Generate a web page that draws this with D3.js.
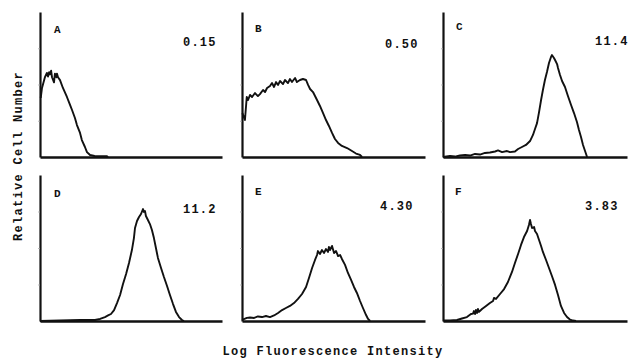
<!DOCTYPE html>
<html>
<head>
<meta charset="utf-8">
<script src="https://cdn.jsdelivr.net/npm/d3@7"></script>
<style>
  body { margin: 0; background: #fff; }
  svg text { font-family: "Liberation Mono", "DejaVu Sans Mono", monospace; font-weight: bold; fill: #111; }
</style>
</head>
<body>
<div id="chart"></div>
<script>
// panel names and the number printed in each corner
var panelNames = ["A", "B", "C", "D", "E", "F"];
var panelValues = ["0.15", "0.50", "11.4", "11.2", "4.30", "3.83"];

// histograms: [log fluorescence (0-100), relative cell number (0-100)]
var histA = [[0.4,40.7],[1.1,47.6],[2.7,55],[3.8,58],[4.4,55.5],[5,58.5],[5.5,57],[6.1,59.5],[6.6,55],[7.7,51.5],[8.2,57.5],
  [9,55],[9.3,57.5],[9.9,55],[11,53],[12.6,47.6],[14.8,41.4],[16.5,35.9],[17.6,32.4],[19.2,26.9],[20.3,22],[22,16.6],[23,11.7],
  [24.7,6.9],[25.8,3.4],[27.5,1.4],[30,0.7],[36.8,0.6],[37.4,0]];
var histB = [[0.2,30.3],[1.6,25.5],[2.6,41.4],[3.3,39.3],[4.4,42.8],[5.5,41.4],[7.1,44.1],[8.7,42],[9.8,43.4],
  [11.5,46.2],[12.6,44.8],[13.7,47.6],[15.3,49],[16.4,51],[17.5,48.3],[18.6,51.7],[19.7,49.7],[20.8,52.4],
  [22.4,50.3],[23.5,53.1],[25.1,51],[26.2,53.8],[27.3,51.7],[29,54.5],[30,51.7],[31.7,53.1],[33.3,53.8],
  [35,53.1],[36.1,49.7],[37.2,46.9],[38.8,44.8],[41,39.3],[42.6,35.2],[44.3,30.3],[45.9,25.5],[47.5,21.4],
  [49.2,16.6],[50.8,12.4],[52.5,9.7],[54.6,7.6],[57.4,6.2],[60.1,4.1],[62.3,2.4],[64.5,1.4],[65.6,0]];
var histC = [[0,0],[3.8,0.7],[6.5,0.3],[9.2,1],[12,1.4],[14.7,1],[17.4,2.1],[20.1,1.7],[22.8,2.8],[25.5,3.1],
  [28.3,3.8],[29.9,4.5],[32.1,3.4],[34.8,4.1],[36.4,3.4],[39.1,3.8],[40.8,5.5],[42.9,6.9],[45.1,8.3],[47.3,11],
  [48.9,15.2],[50,19.3],[51.1,23.4],[52.2,31],[53.3,39.3],[54.3,46.2],[55.4,53.1],[56.5,58.6],[57.6,64.8],
  [58.7,69],[59.2,70.3],[60.3,68.3],[60.9,66.9],[62,64.1],[62.5,61.4],[63.6,56.6],[64.7,52.4],[66.3,48.3],
  [67.9,42.1],[69.6,35.9],[71.2,30.3],[72.8,24.1],[73.9,18.6],[75,13.8],[76.1,8.3],[77.2,4.1],[78.3,0]];
var histD = [[0,0],[11,0.3],[22,0.7],[30.2,0.7],[33,1.4],[35.7,2.7],[37.4,3.8],[39,4.8],[40.7,7.5],[42.3,12.3],
  [44,17.8],[45.6,25.3],[47.3,32.2],[48.9,39.7],[50.5,48.6],[51.6,56.8],[52.2,63.7],[53.3,68.5],[54.4,71.2],
  [55.5,73.3],[56.6,76.7],[57.1,74.7],[57.7,75.3],[58.2,71.9],[59.3,69.2],[60.4,66.4],[61.5,62.3],[62.6,56.8],
  [63.7,50],[64.8,43.2],[66.5,36.3],[68.1,30.1],[69.8,24],[71.4,17.8],[73.1,11.6],[74.7,6.2],[76.4,2.7],
  [78,0.7],[79.1,0]];
var histE = [[0,0.7],[2.7,2.1],[4.4,2.4],[6.6,2.1],[8.7,3.1],[10.9,2.7],[13.1,3.4],[15.3,2.7],[17.5,3.8],
  [19.7,5.5],[21.9,7.5],[24,8.9],[26.2,10.3],[28.4,12.3],[30.6,15.1],[32.8,18.5],[35,23.3],[36.6,29.5],
  [38.3,36.3],[39.9,41.8],[41,45.2],[41.5,47.9],[42.6,45.9],[43.7,48.6],[44.8,46.6],[45.9,49.3],[47,47.3],
  [47.5,50.7],[48.1,48.6],[49.2,51.4],[50.3,46.6],[51.4,47.9],[52.5,44.5],[53.6,45.2],[54.6,42.5],[56.3,38.4],
  [57.9,32.9],[59.6,28.1],[61.2,23.3],[62.8,19.2],[64.5,13.7],[66.1,8.9],[67.8,4.1],[68.9,1.4],[70,0]];
var histF = [[0,0.3],[3.8,0.3],[7.6,0.7],[10.3,1.7],[13,2.7],[15.2,4.8],[16.3,5.1],[16.8,6.8],[17.4,4.8],
  [17.9,7.5],[18.5,5.5],[19,8.2],[19.6,6.2],[21.2,8.2],[23.4,10.3],[25.5,12.3],[27.2,13.7],[27.7,15.8],
  [28.8,15.1],[31,18.5],[33.2,21.9],[35.3,26.7],[37.5,33.6],[39.1,39.7],[40.8,45.9],[42.4,52.1],[44,57.5],
  [45.7,61.6],[46.7,65.8],[47.3,69.2],[47.8,66.4],[48.4,63.7],[49.5,64.4],[50,61.6],[51.1,59.6],[52.2,55.5],
  [53.3,51.4],[54.3,47.3],[56,41.8],[57.6,36.3],[59.2,30.8],[60.9,24.7],[62.5,17.8],[64.1,10.3],[65.8,5.5],
  [67.4,2.7],[69,1],[70.7,0.3],[72.3,0]];

var histograms = [histA, histB, histC, histD, histE, histF];

var width = 635;
var height = 359;

// panel grid
var colLeft = [40, 242, 443];
var colWidth = [182, 183, 184];
var rowTop = [12, 175];
var rowBase = [157, 321];

// where the letter and number sit inside each panel (offsets from the axis corner)
var letterPos = [[14, 21], [13, 20], [13, 18], [14, 22], [13, 20], [12, 20]];
var valuePos = [[143, 34], [143, 36], [152, 33], [143, 38], [138, 35], [142, 35]];

var svg = d3.select("#chart")
  .append("svg")
  .attr("width", width)
  .attr("height", height);

var line = d3.line();

histograms.forEach(function(hist, i) {
  var col = i % 3;
  var row = Math.floor(i / 3);
  var x0 = colLeft[col];
  var top = rowTop[row];
  var base = rowBase[row];

  var xScale = d3.scaleLinear().domain([0, 100]).range([x0, x0 + colWidth[col]]);
  var yScale = d3.scaleLinear().domain([0, 100]).range([base, top]);

  var g = svg.append("g").attr("class", "panel");

  // axes, no labels, just the frame lines
  var xAxis = d3.axisBottom(xScale).tickValues([]).tickSizeOuter(0);
  var yAxis = d3.axisLeft(yScale).tickValues([25, 50, 75]).tickSize(2).tickFormat("").tickSizeOuter(0);

  g.append("g")
    .attr("transform", "translate(0," + base + ")")
    .call(xAxis)
    .call(function(a) { a.select(".domain").attr("stroke", "#111").attr("stroke-width", 2.4); });

  g.append("g")
    .attr("transform", "translate(" + x0 + ",0)")
    .call(yAxis)
    .call(function(a) {
      a.select(".domain").attr("stroke", "#111").attr("stroke-width", 2.2);
      a.selectAll(".tick line").attr("stroke", "#aaa").attr("stroke-width", 0.8);
    });

  // histogram outline
  line.x(function(d) { return xScale(d[0]); })
      .y(function(d) { return yScale(d[1]); });

  g.append("path")
    .datum(hist)
    .attr("d", line)
    .attr("fill", "none")
    .attr("stroke", "#111")
    .attr("stroke-width", 1.9)
    .attr("stroke-linejoin", "round");

  g.append("text")
    .attr("x", x0 + letterPos[i][0])
    .attr("y", top + letterPos[i][1])
    .attr("font-size", 11)
    .text(panelNames[i]);

  g.append("text")
    .attr("x", x0 + valuePos[i][0])
    .attr("y", top + valuePos[i][1])
    .attr("font-size", 12)
    .attr("letter-spacing", 1.2)
    .text(panelValues[i]);
});

// axis titles
svg.append("text")
  .attr("transform", "translate(22,156)rotate(-90)")
  .attr("text-anchor", "middle")
  .attr("font-size", 12)
  .attr("letter-spacing", 1.3)
  .text("Relative Cell Number");

svg.append("text")
  .attr("x", 333)
  .attr("y", 355)
  .attr("text-anchor", "middle")
  .attr("font-size", 12)
  .attr("letter-spacing", 1.3)
  .text("Log Fluorescence Intensity");
</script>
</body>
</html>
